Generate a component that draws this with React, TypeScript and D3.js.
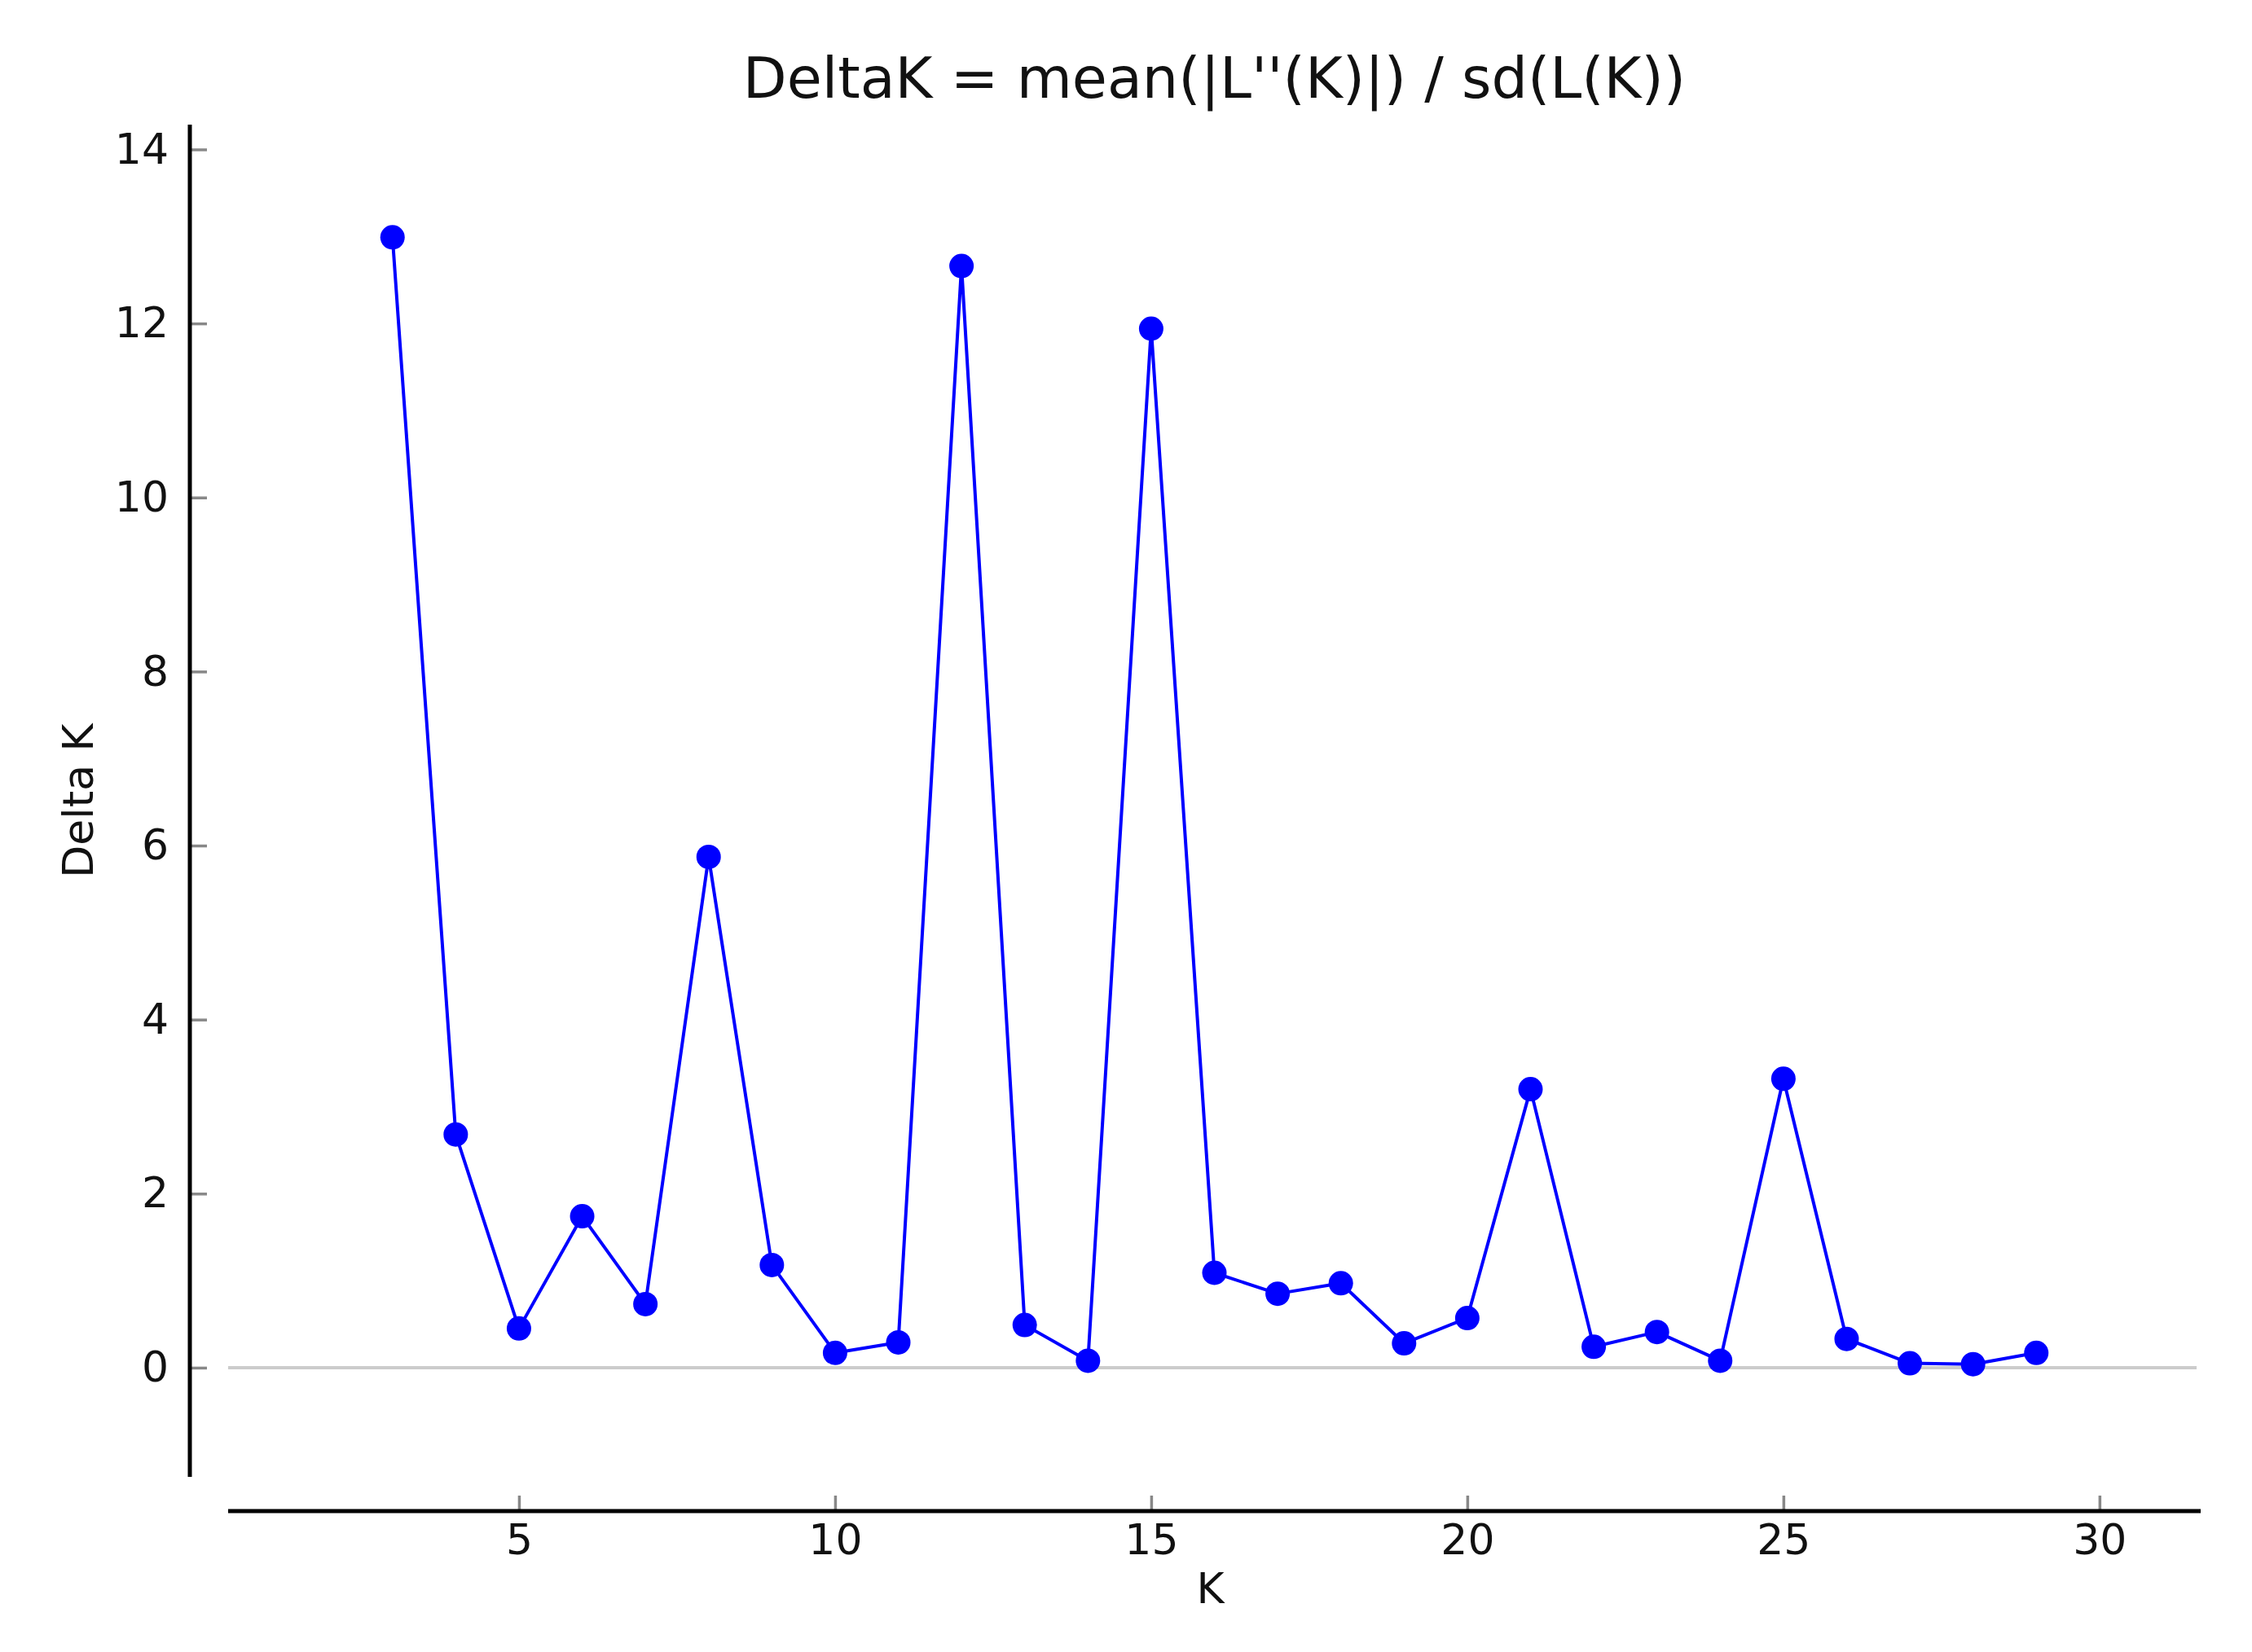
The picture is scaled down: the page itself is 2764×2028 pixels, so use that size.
import React, { useEffect, useRef } from "react";
import * as d3 from "d3";

const kValues = [3, 4, 5, 6, 7, 8, 9, 10, 11, 12, 13, 14, 15, 16, 17, 18, 19, 20, 21, 22, 23, 24, 25, 26, 27, 28, 29];
const deltaK = [12.99, 2.68, 0.45, 1.74, 0.73, 5.87, 1.18, 0.17, 0.29, 12.66, 0.49, 0.08, 11.94, 1.09, 0.85, 0.97, 0.28, 0.57, 3.2, 0.24, 0.41, 0.08, 3.32, 0.33, 0.05, 0.04, 0.17];
const xTickValues = [5, 10, 15, 20, 25, 30];
const yTickValues = [0, 2, 4, 6, 8, 10, 12, 14];
const titleText = "DeltaK = mean(|L''(K)|) / sd(L(K))";
const xLabelText = "K";
const yLabelText = "Delta K";

const W = 2764;
const H = 2028;
const box = { left: 280, right: 2701, top: 153, bottom: 1813 };
const ySpineX = 233;
const xSpineY = 1855;
const FONT = "'DejaVu Sans', 'Bitstream Vera Sans', sans-serif";

export default function App() {
  const ref = useRef<SVGSVGElement | null>(null);

  useEffect(() => {
    const svg = d3.select(ref.current);
    svg.selectAll("*").remove();

    const xExt = d3.extent(kValues) as [number, number];
    const yExt = d3.extent(deltaK) as [number, number];
    const xPad = (xExt[1] - xExt[0]) * 0.1;
    const yPad = (yExt[1] - yExt[0]) * 0.1;

    const x = d3.scaleLinear().domain([xExt[0] - xPad, xExt[1] + xPad]).range([box.left, box.right]);
    const y = d3.scaleLinear().domain([yExt[0] - yPad, yExt[1] + yPad]).range([box.bottom, box.top]);

    svg.append("rect").attr("width", W).attr("height", H).attr("fill", "#ffffff");

    // zero reference line
    svg
      .append("line")
      .attr("x1", box.left)
      .attr("x2", box.right - 5)
      .attr("y1", y(0))
      .attr("y2", y(0))
      .attr("stroke", "#cccccc")
      .attr("stroke-width", 4);

    // data line
    const pts = kValues.map((k, i) => [k, deltaK[i]] as [number, number]);
    const line = d3
      .line<[number, number]>()
      .x((d) => x(d[0]))
      .y((d) => y(d[1]));
    svg
      .append("path")
      .attr("d", line(pts) as string)
      .attr("fill", "none")
      .attr("stroke", "#0000ff")
      .attr("stroke-width", 4)
      .attr("stroke-linejoin", "round");

    svg
      .append("g")
      .selectAll("circle")
      .data(pts)
      .join("circle")
      .attr("cx", (d) => x(d[0]))
      .attr("cy", (d) => y(d[1]))
      .attr("r", 15)
      .attr("fill", "#0000ff");

    // y axis
    const yAxis = d3.axisLeft(y).tickValues(yTickValues).tickSizeInner(-21).tickSizeOuter(0).tickPadding(26).tickFormat(d3.format("d"));
    const gy = svg.append("g").attr("transform", `translate(${ySpineX},0)`).call(yAxis);
    gy.select(".domain").remove();
    gy.selectAll(".tick line").attr("stroke", "#888888").attr("stroke-width", 3.5);
    gy.selectAll(".tick text").attr("font-family", FONT).attr("font-size", 52).attr("fill", "#111111");
    svg
      .append("line")
      .attr("x1", ySpineX)
      .attr("x2", ySpineX)
      .attr("y1", box.top)
      .attr("y2", box.bottom)
      .attr("stroke", "#000000")
      .attr("stroke-width", 5);

    // x axis
    const xAxis = d3.axisBottom(x).tickValues(xTickValues).tickSizeInner(-19).tickSizeOuter(0).tickPadding(16).tickFormat(d3.format("d"));
    const gx = svg.append("g").attr("transform", `translate(0,${xSpineY})`).call(xAxis);
    gx.select(".domain").remove();
    gx.selectAll(".tick line").attr("stroke", "#888888").attr("stroke-width", 3.5);
    gx.selectAll(".tick text").attr("font-family", FONT).attr("font-size", 52).attr("fill", "#111111");
    svg
      .append("line")
      .attr("x1", box.left)
      .attr("x2", box.right)
      .attr("y1", xSpineY)
      .attr("y2", xSpineY)
      .attr("stroke", "#000000")
      .attr("stroke-width", 5);

    // labels
    const cx = (box.left + box.right) / 2;
    svg
      .append("text")
      .attr("x", cx)
      .attr("y", 120)
      .attr("text-anchor", "middle")
      .attr("font-family", FONT)
      .attr("font-size", 70)
      .attr("fill", "#111111")
      .text(titleText);

    svg
      .append("text")
      .attr("x", cx - 5)
      .attr("y", 1968)
      .attr("text-anchor", "middle")
      .attr("font-family", FONT)
      .attr("font-size", 52)
      .attr("fill", "#111111")
      .text(xLabelText);

    svg
      .append("text")
      .attr("transform", `translate(114,${(box.top + box.bottom) / 2}) rotate(-90)`)
      .attr("text-anchor", "middle")
      .attr("font-family", FONT)
      .attr("font-size", 52)
      .attr("fill", "#111111")
      .text(yLabelText);
  }, []);

  return (
    <svg
      ref={ref}
      width={W}
      height={H}
      style={{ position: "absolute", left: 0, top: 0, display: "block" }}
    />
  );
}
